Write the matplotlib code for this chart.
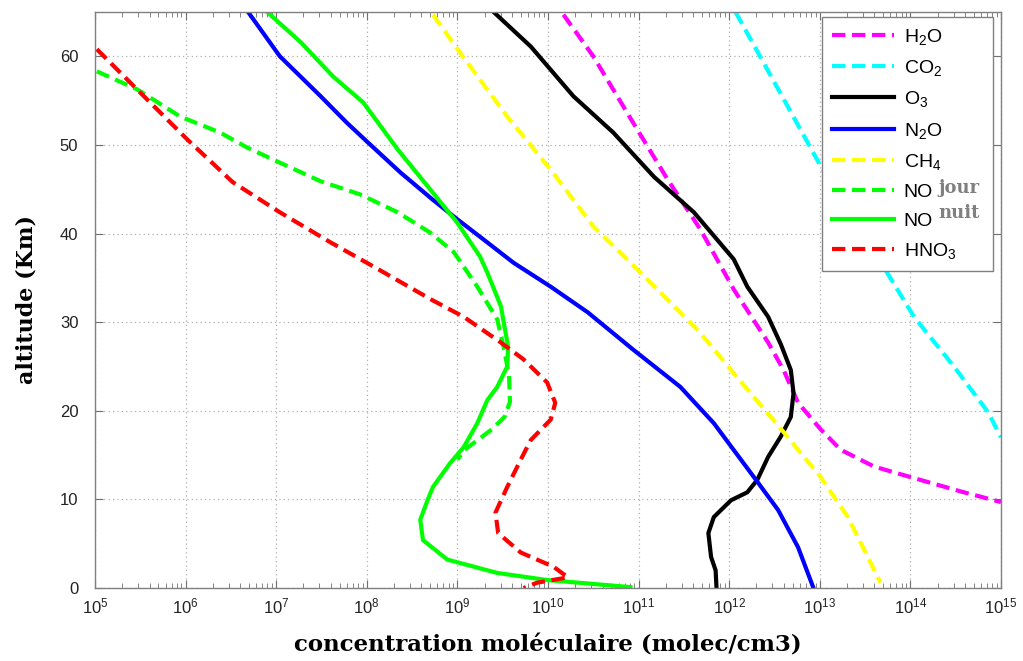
import numpy as np
import matplotlib
matplotlib.use("Agg")
import matplotlib.pyplot as plt
from matplotlib.ticker import LogLocator, NullFormatter

plt.rcParams['font.family'] = ['Liberation Sans', 'DejaVu Sans']
plt.rcParams['mathtext.fontset'] = 'custom'
plt.rcParams['mathtext.rm'] = 'Liberation Sans'
plt.rcParams['mathtext.it'] = 'Liberation Sans:italic'
plt.rcParams['mathtext.bf'] = 'Liberation Sans:bold'

# ---- data: altitude (km) and log10 of concentration (molec/cm3) ----
h2o_alt = [64.7, 60.0, 52.5, 46.1, 40.5, 33.7, 27.7, 24.6, 20.9, 17.9, 15.6, 13.7, 12.4, 10.8, 9.7]
h2o_log = [10.17, 10.50, 10.94, 11.32, 11.68, 12.05, 12.43, 12.60, 12.76, 13.01, 13.23, 13.60, 14.04, 14.59, 15.0]

co2_alt = [65.0, 47.6, 36.3, 30.6, 25.0, 19.8, 17.0]
co2_log = [12.07, 13.01, 13.70, 14.04, 14.48, 14.86, 15.0]

o3_alt = [65.0, 61.1, 55.5, 51.4, 46.4, 42.4, 37.1, 34.0, 30.6, 27.5, 24.6, 22.0, 19.3, 17.1, 14.8, 12.2,
          10.8, 9.9, 8.0, 6.2, 3.5, 2.0, 0.0]
o3_log = [9.40, 9.81, 10.28, 10.72, 11.17, 11.61, 12.05, 12.20, 12.43, 12.57, 12.68, 12.71, 12.68, 12.57, 12.43,
          12.31, 12.20, 12.02, 11.83, 11.77, 11.80, 11.85, 11.86]

n2o_alt = [65.0, 60.0, 55.5, 52.5, 50.3, 46.9, 43.8, 41.6, 39.0, 36.7, 34.0, 31.1, 26.9, 22.7, 18.6, 12.0,
           8.8, 4.6, 0.0]
n2o_log = [6.69, 7.04, 7.49, 7.78, 8.01, 8.37, 8.73, 9.00, 9.33, 9.62, 10.03, 10.44, 10.94, 11.46, 11.83, 12.31,
           12.54, 12.76, 12.93]

ch4_alt = [64.7, 60.4, 53.2, 47.2, 40.8, 35.6, 28.8, 24.6, 17.6, 12.5, 8.0, 0.6]
ch4_log = [8.73, 9.03, 9.55, 10.03, 10.50, 11.02, 11.68, 12.02, 12.60, 13.01, 13.31, 13.67]

no_jour_alt = [58.3, 56.3, 53.2, 51.4, 49.7, 48.0, 45.9, 44.4, 42.4, 40.1, 37.9, 34.0, 30.3, 27.2, 24.0,
               21.0, 19.3, 17.9, 15.6, 14.5]
no_jour_log = [5.02, 5.46, 5.94, 6.38, 6.68, 7.04, 7.49, 7.93, 8.34, 8.70, 8.96, 9.22, 9.44, 9.51, 9.57,
               9.58, 9.52, 9.38, 9.08, 9.00]

no_nuit_alt = [65.0, 61.6, 57.7, 54.8, 49.5, 44.6, 41.2, 37.4, 35.6, 31.8, 27.2, 25.0, 22.7, 21.2, 18.6, 15.9,
               14.1, 11.4, 9.9, 7.7, 5.4, 3.2, 1.7, 0.9, 0.1]
no_nuit_log = [6.90, 7.27, 7.63, 7.96, 8.34, 8.73, 9.00, 9.25, 9.33, 9.48, 9.56, 9.55, 9.44, 9.33, 9.22, 9.07,
               8.92, 8.73, 8.67, 8.59, 8.62, 8.89, 9.44, 9.99, 10.91]

hno3_alt = [60.8, 55.9, 50.6, 45.8, 42.4, 39.0, 36.3, 32.5, 30.6, 27.7, 25.8, 23.2, 20.9, 19.0, 16.7, 14.5,
            11.4, 8.5, 6.2, 4.0, 2.4, 1.2, 0.6, 0.0]
hno3_log = [5.02, 5.50, 6.02, 6.52, 7.04, 7.60, 8.07, 8.72, 9.07, 9.48, 9.73, 9.99, 10.08, 10.03, 9.81, 9.70,
            9.55, 9.42, 9.45, 9.70, 10.06, 10.22, 9.88, 9.73]

labels = ['H$_2$O', 'CO$_2$', 'O$_3$', 'N$_2$O', 'CH$_4$', 'NO', 'NO', 'HNO$_3$']
x_label = 'concentration moléculaire (molec/cm3)'
y_label = 'altitude (Km)'

series = [
    (h2o_alt, h2o_log, '#ff00ff', 'dash'),
    (co2_alt, co2_log, '#00ffff', 'dash'),
    (o3_alt, o3_log, '#000000', 'solid'),
    (n2o_alt, n2o_log, '#0000ff', 'solid'),
    (ch4_alt, ch4_log, '#ffff00', 'dash'),
    (no_jour_alt, no_jour_log, '#00ff00', 'dash'),
    (no_nuit_alt, no_nuit_log, '#00ff00', 'solid'),
    (hno3_alt, hno3_log, '#ff0000', 'dash'),
]

fig = plt.figure(figsize=(10.23, 6.61), dpi=100)
ax = fig.add_axes([95/1023, 1-588/661, (1001-95)/1023, (588-12)/661])

for (alt, lg, col, st), lab in zip(series, labels):
    conc = 10.0 ** np.array(lg)
    if st == 'dash':
        ax.plot(conc, alt, color=col, lw=3, dashes=(3.2, 1.6), label=lab,
                solid_joinstyle='round', dash_joinstyle='round')
    else:
        ax.plot(conc, alt, color=col, lw=3, label=lab, solid_joinstyle='round')

ax.set_xscale('log')
ax.set_xlim(1e5, 1e15)
ax.set_ylim(0, 65)
ax.set_yticks(range(0, 61, 10))
ax.xaxis.set_major_locator(LogLocator(base=10, numticks=20))
ax.xaxis.set_minor_locator(LogLocator(base=10, subs=np.arange(2, 10), numticks=200))
ax.xaxis.set_minor_formatter(NullFormatter())

ax.grid(True, which='major', color='#b0b0b0', linestyle=(0, (1, 2.5)), linewidth=0.9)
for s in ax.spines.values():
    s.set_color('#808080')
    s.set_linewidth(1.0)
ax.tick_params(which='both', direction='in', top=True, right=True, color='#707070')
ax.tick_params(which='major', length=6, labelsize=12, pad=6, labelcolor='#222222')
ax.tick_params(axis='y', which='major', pad=12)
ax.tick_params(which='minor', length=3.5)

ax.set_xlabel(x_label, family='DejaVu Serif', fontweight='bold', fontsize=16.5, labelpad=13)
ax.set_ylabel(y_label, family='DejaVu Serif', fontweight='bold', fontsize=16, labelpad=16)

x0 = (822-95)/906
w = (993-822)/906
h = (267-17)/576
y0 = (588-267)/576
leg = ax.legend(loc='upper left', bbox_to_anchor=(x0, y0, w, h), mode='expand', borderaxespad=0,
                fancybox=False, edgecolor='#808080', framealpha=1, fontsize=14,
                handlelength=3.2, labelspacing=0.58, borderpad=0.5, handletextpad=0.5)
leg.get_frame().set_linewidth(1.0)

fig.text(938/1023, 1-188/661, 'jour', family='DejaVu Serif', fontweight='bold', fontsize=13,
         color='#808080', va='center', ha='left')
fig.text(938/1023, 1-213/661, 'nuit', family='DejaVu Serif', fontweight='bold', fontsize=13,
         color='#808080', va='center', ha='left')

fig.savefig('out.png', dpi=100)
